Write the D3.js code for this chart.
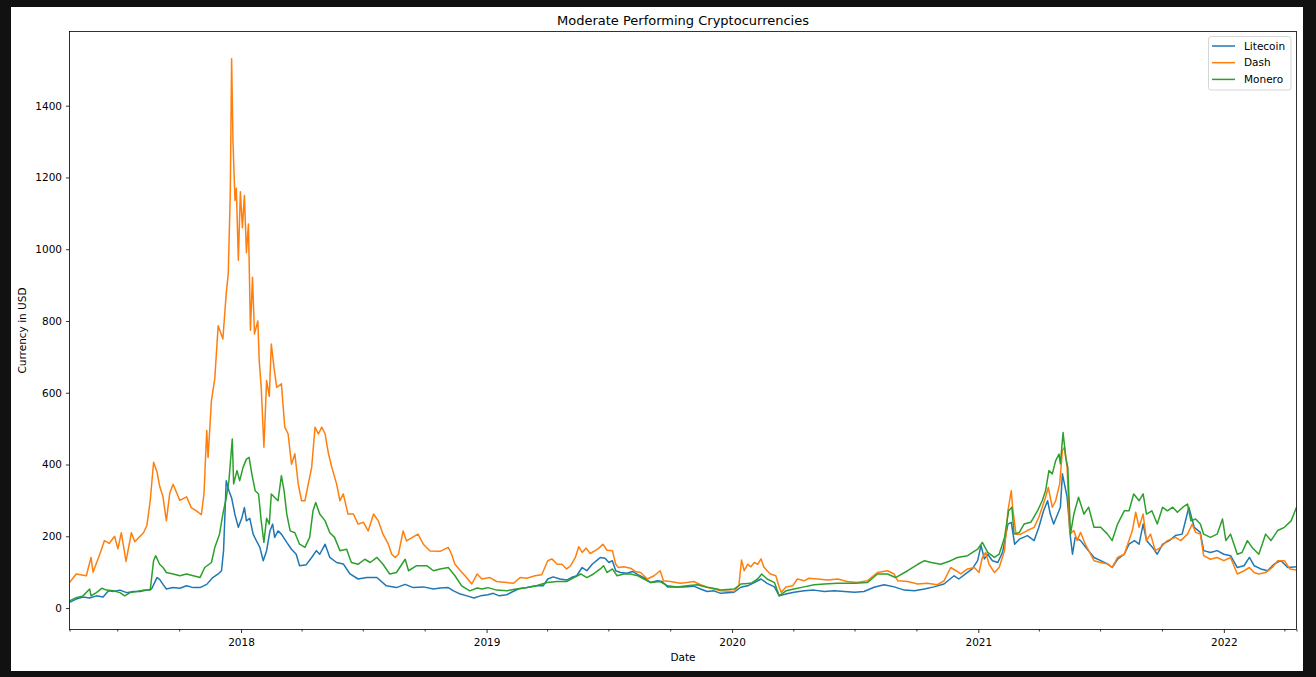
<!DOCTYPE html>
<html>
<head>
<meta charset="utf-8">
<style>
  body { margin: 0; background: #111111; }
  svg { display: block; font-family: "DejaVu Sans", sans-serif; }
</style>
</head>
<body>
<svg width="1316" height="677"></svg>
<script src="https://cdn.jsdelivr.net/npm/d3@7"></script>
<script>

var litecoin = [
  ["2017-04-21",16],["2017-05-01",25],["2017-05-11",31],["2017-05-21",28],["2017-05-31",34],["2017-06-10",31],
  ["2017-06-18",48],["2017-06-25",46],["2017-07-05",50],["2017-07-15",43],["2017-07-25",46],["2017-08-04",46],
  ["2017-08-14",50],["2017-08-21",53],["2017-08-29",85],["2017-09-02",80],["2017-09-07",66],["2017-09-12",53],
  ["2017-09-22",57],["2017-10-02",55],["2017-10-12",62],["2017-10-22",57],["2017-11-01",57],["2017-11-11",66],
  ["2017-11-20",85],["2017-11-28",95],["2017-12-03",104],["2017-12-06",160],["2017-12-10",355],["2017-12-14",327],
  ["2017-12-18",307],["2017-12-23",260],["2017-12-28",225],["2018-01-02",250],["2018-01-06",280],["2018-01-09",243],
  ["2018-01-14",250],["2018-01-19",206],["2018-01-24",187],["2018-01-29",169],["2018-02-03",132],["2018-02-08",160],
  ["2018-02-13",215],["2018-02-17",234],["2018-02-20",197],["2018-02-25",215],["2018-03-02",206],["2018-03-10",183],
  ["2018-03-17",164],["2018-03-24",150],["2018-03-29",118],["2018-04-08",121],["2018-04-16",141],["2018-04-23",160],
  ["2018-04-28",150],["2018-05-06",178],["2018-05-13",141],["2018-05-23",127],["2018-06-02",123],["2018-06-12",95],
  ["2018-06-24",81],["2018-07-07",85],["2018-07-22",85],["2018-08-05",62],["2018-08-20",57],["2018-09-02",66],
  ["2018-09-14",57],["2018-09-29",59],["2018-10-14",53],["2018-10-24",56],["2018-11-05",57],["2018-11-13",48],
  ["2018-11-23",39],["2018-12-03",34],["2018-12-13",28],["2018-12-23",34],["2019-01-03",37],["2019-01-11",41],
  ["2019-01-20",34],["2019-01-31",37],["2019-02-07",44],["2019-02-17",53],["2019-03-02",57],["2019-03-16",62],
  ["2019-03-26",62],["2019-04-02",81],["2019-04-10",87],["2019-04-20",81],["2019-04-30",78],["2019-05-07",85],
  ["2019-05-15",90],["2019-05-23",113],["2019-05-30",104],["2019-06-07",122],["2019-06-14",133],["2019-06-19",141],
  ["2019-06-26",139],["2019-07-02",127],["2019-07-07",132],["2019-07-12",104],["2019-07-19",99],["2019-07-29",97],
  ["2019-08-06",102],["2019-08-14",93],["2019-08-23",85],["2019-09-02",71],["2019-09-12",76],["2019-09-19",74],
  ["2019-09-27",59],["2019-10-06",59],["2019-10-21",59],["2019-11-05",61],["2019-11-15",53],["2019-11-25",46],
  ["2019-12-05",48],["2019-12-15",41],["2020-01-04",44],["2020-01-14",58],["2020-01-24",62],["2020-02-03",71],
  ["2020-02-13",81],["2020-02-22",69],["2020-03-04",59],["2020-03-11",34],["2020-03-21",39],["2020-04-02",44],
  ["2020-04-17",48],["2020-05-02",50],["2020-05-17",46],["2020-06-01",48],["2020-06-16",46],["2020-07-01",44],
  ["2020-07-15",46],["2020-07-30",58],["2020-08-14",65],["2020-08-29",59],["2020-09-13",50],["2020-09-28",48],
  ["2020-10-13",53],["2020-10-27",59],["2020-11-11",67],["2020-11-26",90],["2020-12-03",81],["2020-12-13",95],
  ["2020-12-23",109],["2020-12-31",132],["2021-01-05",174],["2021-01-10",137],["2021-01-15",150],["2021-01-22",132],
  ["2021-01-30",127],["2021-02-06",155],["2021-02-14",234],["2021-02-19",239],["2021-02-24",178],["2021-03-03",192],
  ["2021-03-15",202],["2021-03-25",188],["2021-04-01",225],["2021-04-08",271],["2021-04-14",299],["2021-04-18",262],
  ["2021-04-23",234],["2021-04-29",262],["2021-05-03",281],["2021-05-06",374],["2021-05-09",346],["2021-05-13",309],
  ["2021-05-18",197],["2021-05-21",150],["2021-05-25",197],["2021-06-02",188],["2021-06-12",164],["2021-06-22",141],
  ["2021-07-02",132],["2021-07-12",123],["2021-07-19",113],["2021-07-27",136],["2021-08-06",150],["2021-08-13",178],
  ["2021-08-21",188],["2021-08-28",178],["2021-09-03",234],["2021-09-08",188],["2021-09-17",169],["2021-09-24",150],
  ["2021-10-02",178],["2021-10-12",188],["2021-10-21",202],["2021-10-31",206],["2021-11-10",281],["2021-11-18",225],
  ["2021-11-27",211],["2021-12-02",160],["2021-12-12",155],["2021-12-22",160],["2022-01-01",150],["2022-01-11",146],
  ["2022-01-21",113],["2022-01-31",118],["2022-02-08",141],["2022-02-15",118],["2022-02-25",109],["2022-03-07",104],
  ["2022-03-17",123],["2022-03-27",132],["2022-04-06",113],["2022-04-19",115]
];

var dash = [
  ["2017-04-21",71],["2017-05-01",95],["2017-05-16",90],["2017-05-23",141],["2017-05-26",100],["2017-06-05",150],
  ["2017-06-12",188],["2017-06-19",180],["2017-06-27",200],["2017-07-02",165],["2017-07-07",210],["2017-07-14",130],
  ["2017-07-22",210],["2017-07-27",185],["2017-08-09",210],["2017-08-14",230],["2017-08-19",299],["2017-08-24",406],
  ["2017-08-29",380],["2017-09-02",340],["2017-09-07",310],["2017-09-12",243],["2017-09-17",320],["2017-09-22",345],
  ["2017-10-02",300],["2017-10-12",310],["2017-10-19",280],["2017-10-27",270],["2017-11-03",260],["2017-11-07",320],
  ["2017-11-11",495],["2017-11-13",420],["2017-11-18",578],["2017-11-23",640],["2017-11-28",787],["2017-12-05",750],
  ["2017-12-10",877],["2017-12-13",932],["2017-12-16",1155],["2017-12-18",1531],["2017-12-20",1303],["2017-12-23",1136],
  ["2017-12-25",1170],["2017-12-28",969],["2017-12-31",1160],["2018-01-03",1060],["2018-01-06",1150],["2018-01-09",990],
  ["2018-01-12",1070],["2018-01-15",774],["2018-01-18",922],["2018-01-21",764],["2018-01-26",800],["2018-01-28",690],
  ["2018-01-31",615],["2018-02-04",448],["2018-02-08",634],["2018-02-12",590],["2018-02-15",736],["2018-02-19",670],
  ["2018-02-23",615],["2018-03-02",625],["2018-03-07",504],["2018-03-12",485],["2018-03-17",401],["2018-03-22",430],
  ["2018-03-27",346],["2018-04-01",299],["2018-04-06",299],["2018-04-11",346],["2018-04-16",392],["2018-04-21",504],
  ["2018-04-26",485],["2018-05-01",504],["2018-05-06",485],["2018-05-11",430],["2018-05-16",392],["2018-05-23",346],
  ["2018-05-28",299],["2018-06-02",318],["2018-06-09",262],["2018-06-17",262],["2018-06-24",234],["2018-07-02",239],
  ["2018-07-09",215],["2018-07-17",262],["2018-07-24",243],["2018-07-31",206],["2018-08-08",178],["2018-08-13",150],
  ["2018-08-18",141],["2018-08-23",150],["2018-08-30",215],["2018-09-04",187],["2018-09-12",196],["2018-09-21",206],
  ["2018-09-29",178],["2018-10-09",159],["2018-10-24",158],["2018-11-05",169],["2018-11-10",150],["2018-11-15",122],
  ["2018-11-23",104],["2018-11-30",90],["2018-12-10",67],["2018-12-18",95],["2018-12-25",81],["2019-01-06",85],
  ["2019-01-16",74],["2019-01-31",71],["2019-02-10",69],["2019-02-20",85],["2019-03-02",83],["2019-03-14",90],
  ["2019-03-24",93],["2019-04-02",132],["2019-04-08",137],["2019-04-16",122],["2019-04-23",122],["2019-04-30",109],
  ["2019-05-06",118],["2019-05-13",141],["2019-05-18",171],["2019-05-23",155],["2019-05-29",167],["2019-06-04",152],
  ["2019-06-12",161],["2019-06-17",167],["2019-06-23",178],["2019-06-29",161],["2019-07-07",160],["2019-07-12",122],
  ["2019-07-16",113],["2019-07-24",115],["2019-08-03",111],["2019-08-10",102],["2019-08-18",99],["2019-08-28",81],
  ["2019-09-07",90],["2019-09-16",104],["2019-09-21",76],["2019-10-01",74],["2019-10-16",69],["2019-10-26",71],
  ["2019-11-05",74],["2019-11-15",65],["2019-11-25",58],["2019-12-05",53],["2019-12-15",48],["2020-01-04",46],
  ["2020-01-11",62],["2020-01-15",134],["2020-01-19",104],["2020-01-24",122],["2020-01-29",115],["2020-02-03",127],
  ["2020-02-08",122],["2020-02-13",137],["2020-02-17",115],["2020-02-22",104],["2020-02-27",95],["2020-03-06",90],
  ["2020-03-11",58],["2020-03-14",44],["2020-03-21",59],["2020-03-31",62],["2020-04-07",81],["2020-04-17",76],
  ["2020-04-24",83],["2020-05-07",81],["2020-05-22",78],["2020-06-06",81],["2020-06-20",74],["2020-07-05",71],
  ["2020-07-20",76],["2020-08-04",99],["2020-08-19",104],["2020-08-29",95],["2020-09-03",76],["2020-09-18",74],
  ["2020-10-03",67],["2020-10-17",69],["2020-11-01",65],["2020-11-11",76],["2020-11-21",113],["2020-11-29",104],
  ["2020-12-06",95],["2020-12-16",109],["2020-12-26",113],["2021-01-02",99],["2021-01-07",141],["2021-01-12",155],
  ["2021-01-17",122],["2021-01-25",99],["2021-02-01",113],["2021-02-09",160],["2021-02-14",271],["2021-02-19",327],
  ["2021-02-21",281],["2021-02-26",206],["2021-03-05",206],["2021-03-15",216],["2021-03-25",225],["2021-04-01",253],
  ["2021-04-06",281],["2021-04-11",309],["2021-04-15",336],["2021-04-21",281],["2021-04-26",299],["2021-05-02",346],
  ["2021-05-06",439],["2021-05-09",448],["2021-05-13",392],["2021-05-17",206],["2021-05-23",216],["2021-05-28",188],
  ["2021-06-02",211],["2021-06-09",178],["2021-06-17",150],["2021-06-22",132],["2021-07-02",127],["2021-07-12",123],
  ["2021-07-19",113],["2021-07-27",141],["2021-08-06",150],["2021-08-13",188],["2021-08-18",216],["2021-08-23",267],
  ["2021-08-28",225],["2021-09-03",262],["2021-09-08",188],["2021-09-14",206],["2021-09-21",160],["2021-09-29",169],
  ["2021-10-09",188],["2021-10-21",197],["2021-10-29",188],["2021-11-08",206],["2021-11-15",234],["2021-11-20",211],
  ["2021-11-27",206],["2021-12-02",146],["2021-12-12",136],["2021-12-22",141],["2022-01-01",132],["2022-01-11",141],
  ["2022-01-21",95],["2022-01-31",104],["2022-02-08",113],["2022-02-15",99],["2022-02-22",95],["2022-03-04",99],
  ["2022-03-14",113],["2022-03-22",132],["2022-04-01",132],["2022-04-09",109],["2022-04-19",106]
];

var monero = [
  ["2017-04-21",20],["2017-05-01",29],["2017-05-11",34],["2017-05-21",53],["2017-05-23",34],["2017-05-31",43],
  ["2017-06-08",55],["2017-06-15",50],["2017-06-25",48],["2017-07-05",43],["2017-07-12",34],["2017-07-20",43],
  ["2017-07-30",46],["2017-08-09",50],["2017-08-19",50],["2017-08-24",132],["2017-08-27",146],["2017-09-02",122],
  ["2017-09-07",113],["2017-09-12",99],["2017-09-22",95],["2017-10-02",90],["2017-10-12",95],["2017-10-22",90],
  ["2017-11-01",85],["2017-11-08",113],["2017-11-18",127],["2017-11-23",169],["2017-11-30",206],["2017-12-05",262],
  ["2017-12-10",307],["2017-12-14",355],["2017-12-19",471],["2017-12-21",346],["2017-12-26",383],["2017-12-30",355],
  ["2018-01-04",392],["2018-01-09",415],["2018-01-13",420],["2018-01-17",374],["2018-01-22",327],["2018-01-27",318],
  ["2018-01-31",243],["2018-02-04",183],["2018-02-08",250],["2018-02-12",234],["2018-02-15",318],["2018-02-20",308],
  ["2018-02-25",299],["2018-03-02",369],["2018-03-06",327],["2018-03-10",262],["2018-03-15",215],["2018-03-22",210],
  ["2018-03-29",178],["2018-04-06",169],["2018-04-13",197],["2018-04-18",271],["2018-04-22",294],["2018-04-28",262],
  ["2018-05-06",243],["2018-05-13",210],["2018-05-20",197],["2018-05-28",160],["2018-06-07",164],["2018-06-14",127],
  ["2018-06-24",122],["2018-07-04",136],["2018-07-12",127],["2018-07-22",141],["2018-07-31",122],["2018-08-10",95],
  ["2018-08-20",99],["2018-09-02",136],["2018-09-07",104],["2018-09-19",118],["2018-10-04",118],["2018-10-14",104],
  ["2018-10-24",109],["2018-11-05",113],["2018-11-15",90],["2018-11-25",62],["2018-12-07",48],["2018-12-18",56],
  ["2018-12-25",53],["2019-01-03",57],["2019-01-16",50],["2019-01-31",48],["2019-02-14",53],["2019-03-02",57],
  ["2019-03-16",62],["2019-04-01",71],["2019-04-16",74],["2019-04-30",74],["2019-05-11",85],["2019-05-21",95],
  ["2019-05-30",85],["2019-06-09",95],["2019-06-19",109],["2019-06-24",118],["2019-06-29",99],["2019-07-07",109],
  ["2019-07-14",90],["2019-07-24",95],["2019-08-03",95],["2019-08-14",90],["2019-08-23",81],["2019-09-02",71],
  ["2019-09-16",74],["2019-09-27",62],["2019-10-11",59],["2019-10-26",62],["2019-11-10",65],["2019-11-25",58],
  ["2019-12-10",53],["2019-12-15",50],["2020-01-04",53],["2020-01-14",67],["2020-01-29",69],["2020-02-08",81],
  ["2020-02-14",95],["2020-02-22",81],["2020-03-04",71],["2020-03-11",34],["2020-03-21",48],["2020-04-02",53],
  ["2020-04-17",59],["2020-05-02",65],["2020-05-17",67],["2020-06-06",69],["2020-07-01",69],["2020-07-20",71],
  ["2020-08-04",95],["2020-08-19",95],["2020-08-31",85],["2020-09-18",104],["2020-10-03",122],["2020-10-13",132],
  ["2020-10-23",127],["2020-11-06",122],["2020-11-21",132],["2020-12-01",141],["2020-12-16",146],["2020-12-31",164],
  ["2021-01-07",183],["2021-01-15",155],["2021-01-25",141],["2021-02-01",150],["2021-02-09",197],["2021-02-15",271],
  ["2021-02-20",281],["2021-02-23",206],["2021-03-03",211],["2021-03-10",234],["2021-03-20",239],["2021-03-30",271],
  ["2021-04-06",299],["2021-04-11",327],["2021-04-16",383],["2021-04-21",374],["2021-04-26",411],["2021-05-01",429],
  ["2021-05-03",402],["2021-05-07",489],["2021-05-11",420],["2021-05-14",392],["2021-05-18",206],["2021-05-23",262],
  ["2021-05-30",309],["2021-06-07",262],["2021-06-14",281],["2021-06-22",225],["2021-07-02",225],["2021-07-12",206],
  ["2021-07-19",188],["2021-07-27",234],["2021-08-06",271],["2021-08-13",271],["2021-08-20",318],["2021-08-28",299],
  ["2021-09-03",318],["2021-09-08",262],["2021-09-16",271],["2021-09-24",234],["2021-10-02",281],["2021-10-09",271],
  ["2021-10-17",281],["2021-10-24",267],["2021-11-01",281],["2021-11-08",290],["2021-11-13",243],["2021-11-20",248],
  ["2021-11-27",234],["2021-12-02",206],["2021-12-12",197],["2021-12-22",206],["2021-12-30",248],["2022-01-04",188],
  ["2022-01-11",206],["2022-01-21",150],["2022-01-28",155],["2022-02-05",188],["2022-02-12",169],["2022-02-22",150],
  ["2022-03-04",206],["2022-03-12",188],["2022-03-22",216],["2022-04-01",225],["2022-04-11",243],["2022-04-19",281]
];

var seriesNames = ["Litecoin", "Dash", "Monero"];
var seriesColors = ["#1f77b4", "#ff7f0e", "#2ca02c"];
var yTicks = [0, 200, 400, 600, 800, 1000, 1200, 1400];
var yearTicks = ["2018", "2019", "2020", "2021", "2022"];

var parseDate = d3.timeParse("%Y-%m-%d");
var series = [litecoin, dash, monero].map(function(rows, i) {
  return {
    name: seriesNames[i],
    color: seriesColors[i],
    values: rows.map(function(r) { return {date: parseDate(r[0]), value: r[1]}; })
  };
});

var svg = d3.select("svg");

// notebook output cell: dark page, white figure
svg.append("rect").attr("width", 1316).attr("height", 677).attr("fill", "#111111");
svg.append("rect").attr("x", 11).attr("y", 7).attr("width", 1292).attr("height", 664).attr("fill", "#ffffff");

var margin = {top: 31.5, left: 69.5},
    width = 1227,
    height = 598;

var g = svg.append("g").attr("transform", "translate(" + margin.left + "," + margin.top + ")");

var allValues = d3.merge(series.map(function(s) { return s.values; }));
var xExtent = d3.extent(allValues, function(d) { return d.date; });
var yExtent = d3.extent(allValues, function(d) { return d.value; });
var pad = (yExtent[1] - yExtent[0]) * 0.05;

var x = d3.scaleTime().domain(xExtent).range([0, width]);
var y = d3.scaleLinear().domain([yExtent[0] - pad, yExtent[1] + pad]).range([height, 0]);

g.append("clipPath").attr("id", "plot-clip")
  .append("rect").attr("width", width).attr("height", height);

var line = d3.line()
    .x(function(d) { return x(d.date); })
    .y(function(d) { return y(d.value); });

g.append("g").attr("clip-path", "url(#plot-clip)")
  .selectAll("path")
  .data(series)
  .enter().append("path")
    .attr("fill", "none")
    .attr("stroke", function(d) { return d.color; })
    .attr("stroke-width", 1.5)
    .attr("stroke-linejoin", "round")
    .attr("d", function(d) { return line(d.values); });

// y axis
var yAxis = g.append("g")
    .call(d3.axisLeft(y).tickValues(yTicks).tickSize(3.5).tickPadding(4).tickFormat(d3.format("d")));
yAxis.select(".domain").remove();

// x axis: years + quarterly minor ticks
var majorDates = yearTicks.map(function(t) { return parseDate(t + "-01-01"); });
var minorDates = d3.timeMonth.every(3).range(xExtent[0], xExtent[1])
    .filter(function(d) { return d.getMonth() !== 0; })
    .concat(xExtent);

var xMinor = g.append("g")
    .attr("transform", "translate(0," + height + ")")
    .call(d3.axisBottom(x).tickValues(minorDates).tickSize(2).tickFormat(""));
xMinor.select(".domain").remove();

var xAxis = g.append("g")
    .attr("transform", "translate(0," + height + ")")
    .call(d3.axisBottom(x).tickValues(majorDates).tickSize(3.5).tickPadding(5.5)
      .tickFormat(d3.timeFormat("%Y")));
xAxis.select(".domain").remove();

svg.selectAll(".tick text").attr("font-size", "10.5px").attr("fill", "#000")
  .attr("font-family", "DejaVu Sans, sans-serif");
svg.selectAll(".tick line").attr("stroke", "#000").attr("stroke-width", 0.8);

// frame
g.append("rect")
  .attr("width", width).attr("height", height)
  .attr("fill", "none").attr("stroke", "#000").attr("stroke-width", 0.8);

// title and labels
svg.append("text")
  .attr("x", margin.left + width / 2).attr("y", 25)
  .attr("text-anchor", "middle").attr("font-size", "13px").attr("fill", "#000")
  .text("Moderate Performing Cryptocurrencies");

svg.append("text")
  .attr("x", margin.left + width / 2).attr("y", 661)
  .attr("text-anchor", "middle").attr("font-size", "10.5px").attr("fill", "#000")
  .text("Date");

svg.append("text")
  .attr("transform", "translate(26," + (margin.top + height / 2) + ") rotate(-90)")
  .attr("text-anchor", "middle").attr("font-size", "10.5px").attr("fill", "#000")
  .text("Currency in USD");

// legend
var legend = svg.append("g").attr("transform", "translate(1208.5,36.5)");
legend.append("rect")
  .attr("width", 82.5).attr("height", 53.5).attr("rx", 2.5)
  .attr("fill", "#fff").attr("fill-opacity", 0.8)
  .attr("stroke", "#d6d6d6").attr("stroke-width", 1);

var item = legend.selectAll(".item")
  .data(series)
  .enter().append("g")
    .attr("class", "item")
    .attr("transform", function(d, i) { return "translate(0," + (9.5 + i * 16.7) + ")"; });

item.append("line")
  .attr("x1", 3.5).attr("x2", 26.5)
  .attr("stroke", function(d) { return d.color; })
  .attr("stroke-width", 1.5);

item.append("text")
  .attr("x", 35.5).attr("dy", "0.36em")
  .attr("font-size", "10.5px").attr("fill", "#000")
  .text(function(d) { return d.name; });

</script>
</body>
</html>
